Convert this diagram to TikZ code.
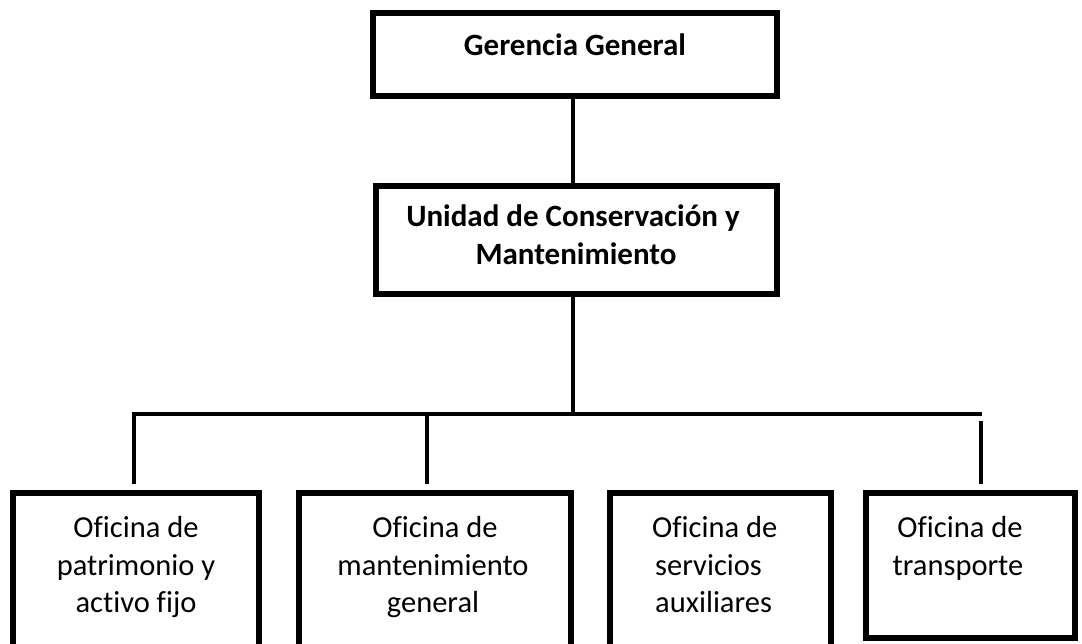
\documentclass[tikz,border=0pt]{standalone}
\usepackage{fontspec}
\setmainfont{Carlito}[Ligatures={NoCommon}]
\begin{document}
\begin{tikzpicture}[x=1pt,y=-1pt,
  box/.style={draw=black,line width=5.5pt,fill=white,inner sep=0pt,outer sep=0pt,line join=miter},
  conn/.style={draw=black,line width=4pt},
  lbl/.style={anchor=base,inner sep=0pt,font=\fontsize{30.5}{37.5}\selectfont},
  blbl/.style={lbl,font=\fontsize{31}{37.5}\selectfont\bfseries}]
\useasboundingbox[fill=white] (0,0) rectangle (1082,644);
% boxes
\node[box,minimum width=404pt,minimum height=83pt] (g) at (575,54.5) {};
\node[box,minimum width=401pt,minimum height=108pt] (u) at (576.5,240) {};
\node[box,minimum width=246pt,minimum height=207pt] (b1) at (136,596.5) {};
\node[box,minimum width=272pt,minimum height=207pt] (b2) at (435,596.5) {};
\node[box,minimum width=221pt,minimum height=207pt] (b3) at (720.5,596.5) {};
\node[box,minimum width=209pt,minimum height=145pt] (b4) at (970.5,565.5) {};
% connectors
\coordinate (j) at (573,414);
\coordinate (busR) at (982,414);
\coordinate (d1) at (134,484);
\coordinate (d2) at (427,484);
\coordinate (d4t) at (981,421);
\coordinate (d4) at (981,484);
\draw[conn] (g.south -| j) -- (u.north -| j);
\draw[conn] (u.south -| j) -- (j);
\draw[conn,line join=miter] (d1) |- (busR);
\draw[conn] (d2 |- j) -- (d2);
\draw[conn] (d4t) -- (d4);
% texts
\node[blbl] (tg) at (575,56) {Gerencia General};
\node[blbl] (tu1) at (573,227) {Unidad de Conservación y};
\node[blbl] (tu2) at (576,265) {Mantenimiento};
\node[lbl] (t11) at (136,537) {Oficina de};
\node[lbl] (t12) at (136,575) {patrimonio y};
\node[lbl] (t13) at (136,612) {activo fijo};
\node[lbl] (t21) at (435,537) {Oficina de};
\node[lbl] (t22) at (433,575) {mantenimiento};
\node[lbl] (t23) at (433,612) {general};
\node[lbl,anchor=base west] (t31) at (652,537) {Oficina de};
\node[lbl,anchor=base west] (t32) at (655,575) {servicios};
\node[lbl,anchor=base west] (t33) at (655,612) {auxiliares};
\node[lbl] (t41) at (960,537) {Oficina de};
\node[lbl] (t42) at (958,575) {transporte};
\end{tikzpicture}
\end{document}
